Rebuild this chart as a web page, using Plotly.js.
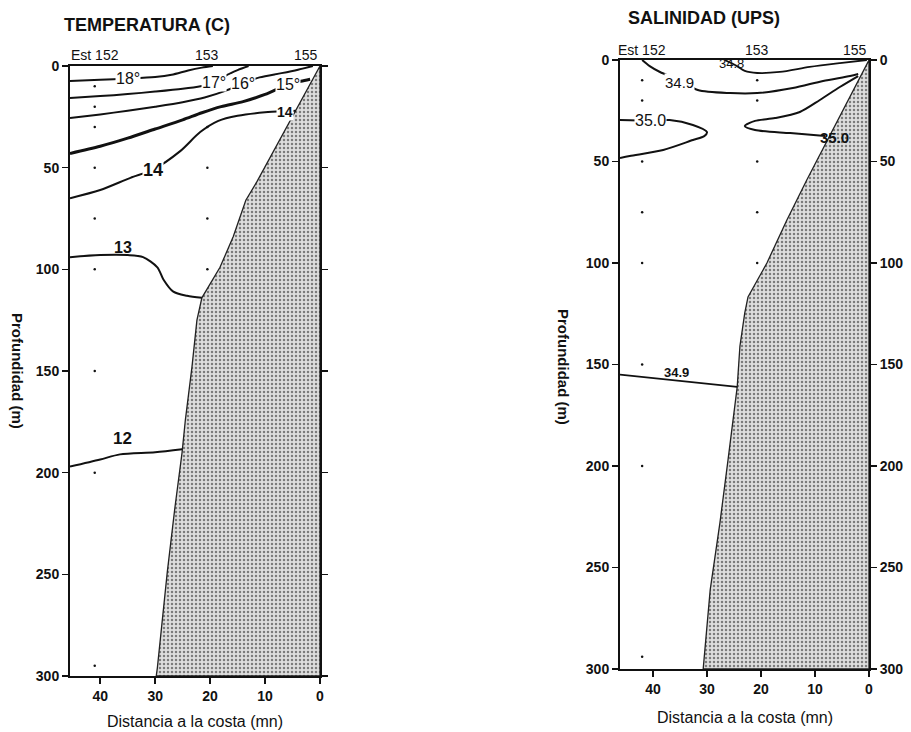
<!DOCTYPE html>
<html>
<head>
<meta charset="utf-8">
<script src="https://cdn.plot.ly/plotly-3.0.1.min.js"></script>
<style>html,body{margin:0;padding:0;background:#fff}#chart{width:911px;height:732px}</style>
</head>
<body>
<div id="chart"></div>
<script>
// ---------------- DATA ----------------
// Station positions (distance to coast, mn) and names
const tempStationX = [41, 20.5, 0];
const salStationX = [42, 20.7, 0];
const stationNames = ['Est 152', '153', '155'];

// Sample depths at stations (m)
const tempDepths152 = [10, 20, 30, 50, 75, 100, 150, 200, 295];
const tempDepths153 = [30, 50, 75, 100];
const salDepths152 = [10, 20, 50, 75, 100, 150, 200, 294];
const salDepths153 = [10, 20, 50, 75, 100];

// Bottom profile (distance, depth)
const tempBottomX = [0, 11.5, 13.5, 15.8, 18.2, 21.5, 22.4, 23.3, 24.5, 25.1, 26.4, 27.8, 29.6, 29.8];
const tempBottomD = [0, 57, 66, 84, 99, 114, 125, 148, 174, 190, 217, 249, 296, 300];
const salBottomX = [0, 10.4, 11.5, 15.2, 18.9, 22.4, 23, 23.9, 24.4, 26.1, 27.6, 29.4, 30.7];
const salBottomD = [0, 52.7, 59, 78.8, 100, 116.7, 124.6, 141, 161, 197, 228, 261, 300];

// Temperature isotherms (distance, depth)
const t18X = [45.5, 40, 35, 30, 27, 24, 21.5, 19.5];
const t18D = [7.4, 6.8, 6.2, 5.4, 4.3, 2.2, 0.8, 0];
const t17X = [45.5, 40, 35, 30, 25, 21.5, 19, 17, 15, 13];
const t17D = [15.7, 14.8, 13.8, 12.6, 11.2, 9.8, 8.3, 4.5, 2, 0];
const t16X = [45.5, 40, 35, 30, 25, 21, 17, 14, 11, 7, 4, 1.3];
const t16D = [25.6, 23.8, 22, 20, 17.8, 15.5, 12, 8.5, 5.6, 3.5, 1.8, 0];
const t15X = [45.5, 40, 35, 30, 25, 21.5, 18, 14, 10, 7.5, 5.8, 3.5, 1.8];
const t15D = [43, 39.5, 35.5, 31, 26.5, 23, 20, 17.5, 14, 11, 9, 7.5, 6.5];
const t14X = [45.5, 40, 34.5, 30.4, 25.5, 21.8, 18.5, 15, 10, 6, 4.4];
const t14D = [65, 61, 55, 51, 42, 32.5, 27, 24.5, 22.8, 22.2, 22];
const t13X = [45.5, 40, 35, 32.2, 29.6, 28.5, 26.7, 24.2, 21.5];
const t13D = [94, 93, 93, 94, 99, 105, 111, 113, 114];
const t12X = [45.5, 40, 36.4, 30, 25.1];
const t12D = [197, 193.5, 191, 190, 188.5];

// Temperature labels
const tLabelText = ['18°', '17°', '16°', '15°', '14', '14', '13', '12'];
const tLabelX = [35, 19.3, 14, 5.8, 30.4, 6.3, 35.8, 36];
const tLabelD = [6.2, 8, 8.5, 9, 51, 22.4, 89.5, 183];

// Salinity isohalines (distance, depth)
const s348X = [26.7, 24.8, 23, 20.7, 16.5, 11, 5.4, 0.4];
const s348D = [0, 2.5, 5.4, 6.4, 5.9, 3.4, 1.5, 0];
const s349aX = [42, 40.6, 38.7, 35, 31.7, 25.7, 20.7, 14.1, 8.5, 3.5, 2];
const s349aD = [0, 3, 5.9, 10, 14.8, 16.3, 16.3, 13.8, 10.3, 7.9, 6.9];
const s350aX = [46.1, 40.4, 36.9, 32.6, 30, 30.5, 32.6, 38.1, 44.3, 46.1];
const s350aD = [29.6, 30, 29.6, 32, 35.5, 37.5, 39.4, 44.3, 47.3, 48.3];
const s350bX = [2, 5.4, 9.1, 12.8, 17.4, 21.1, 23, 21.1, 14.6, 8.1];
const s350bD = [7.9, 13.3, 19.7, 25.6, 28.6, 30, 32.5, 34.5, 36, 37.4];
const s349bX = [46.1, 35, 24.4];
const s349bD = [155, 158, 161];

// Salinity labels
const sLabelText = ['34.8', '34.9', '35.0', '35.0', '34.9'];
const sLabelX = [25.5, 35, 40.4, 6.3, 35.7];
const sLabelD = [1.5, 11.3, 30, 38, 154];

// ---------------- LAYOUT HELPERS ----------------
const W = 911, H = 732;
const fx = p => p / W;
const fy = p => 1 - p / H;
const FONT = 'Arial, "Liberation Sans", sans-serif';
const INK = '#111';

function line(x, y, xa, ya, w, shape) {
  return {x: x, y: y, xaxis: xa, yaxis: ya, type: 'scatter', mode: 'lines',
    line: {color: INK, width: w, shape: shape || 'spline', smoothing: 0.8},
    hoverinfo: 'skip', showlegend: false};
}
function bottom(x, d, xa, ya) {
  const px = x.slice(), pd = d.slice();
  px.push(0, 0); pd.push(300, 0);
  return {x: px, y: pd, xaxis: xa, yaxis: ya, type: 'scatter', mode: 'lines',
    fill: 'toself', fillcolor: '#d6d6d6',
    fillpattern: {shape: '.', fgcolor: '#7c7c7c', bgcolor: '#dedede', size: 4, solidity: 0.3},
    line: {color: '#222', width: 1.3}, hoverinfo: 'skip', showlegend: false};
}
function dots(xv, depths, xa, ya) {
  return {x: depths.map(() => xv), y: depths, xaxis: xa, yaxis: ya, type: 'scatter',
    mode: 'markers', marker: {color: INK, size: 2.5}, hoverinfo: 'skip', showlegend: false};
}

const traces = [
  bottom(tempBottomX, tempBottomD, 'x', 'y'),
  line(t18X, t18D, 'x', 'y', 2),
  line(t17X, t17D, 'x', 'y', 2),
  line(t16X, t16D, 'x', 'y', 2),
  line(t15X, t15D, 'x', 'y', 3),
  line(t14X, t14D, 'x', 'y', 2),
  line(t13X, t13D, 'x', 'y', 2),
  line(t12X, t12D, 'x', 'y', 2),
  dots(tempStationX[0], tempDepths152, 'x', 'y'),
  dots(tempStationX[1], tempDepths153, 'x', 'y'),
  {x: [], y: [], xaxis: 'x', yaxis: 'y2', type: 'scatter', showlegend: false},

  bottom(salBottomX, salBottomD, 'x3', 'y3'),
  line(s348X, s348D, 'x3', 'y3', 1.8),
  line(s349aX, s349aD, 'x3', 'y3', 2),
  line(s350aX, s350aD, 'x3', 'y3', 2),
  line(s350bX, s350bD, 'x3', 'y3', 2),
  line(s349bX, s349bD, 'x3', 'y3', 1.8, 'linear'),
  dots(salStationX[0], salDepths152, 'x3', 'y3'),
  dots(salStationX[1], salDepths153, 'x3', 'y3'),
  {x: [], y: [], xaxis: 'x3', yaxis: 'y4', type: 'scatter', showlegend: false}
];

const tickFont = {family: FONT, size: 14, color: INK, weight: 'bold'};
function xAx(d0, d1, r0, anchor) {
  return {domain: [fx(d0), fx(d1)], range: [r0, 0], anchor: anchor,
    tickvals: [40, 30, 20, 10, 0], ticks: 'outside', ticklen: 6, tickwidth: 1.5, tickcolor: INK,
    showline: true, linewidth: 2, linecolor: INK, mirror: true,
    showgrid: false, zeroline: false, tickfont: tickFont, fixedrange: true};
}
function yAx(t, b, anchor, extra) {
  return Object.assign({domain: [fy(b), fy(t)], range: [300, 0], anchor: anchor,
    tickvals: [0, 50, 100, 150, 200, 250, 300], ticks: 'outside', ticklen: 6, tickwidth: 1.5, tickcolor: INK,
    showline: true, linewidth: 2, linecolor: INK,
    showgrid: false, zeroline: false, tickfont: tickFont, fixedrange: true}, extra || {});
}

const annotations = [];
function ann(o) {
  annotations.push(Object.assign({showarrow: false, xanchor: 'center', yanchor: 'middle',
    font: {family: FONT, color: INK, size: 13}}, o));
}

// Panel titles
ann({xref: 'paper', yref: 'paper', x: fx(147), y: fy(25), text: 'TEMPERATURA (C)', font: {family: FONT, size: 18, color: INK, weight: 'bold'}});
ann({xref: 'paper', yref: 'paper', x: fx(704), y: fy(18), text: 'SALINIDAD (UPS)', font: {family: FONT, size: 18, color: INK, weight: 'bold'}});
// Axis titles
ann({xref: 'paper', yref: 'paper', x: fx(17), y: fy(371), text: 'Profundidad (m)', textangle: 90, font: {family: FONT, size: 15, color: INK, weight: 'bold'}});
ann({xref: 'paper', yref: 'paper', x: fx(563), y: fy(367), text: 'Profundidad (m)', textangle: 90, font: {family: FONT, size: 15, color: INK, weight: 'bold'}});
ann({xref: 'paper', yref: 'paper', x: fx(195), y: fy(721), text: 'Distancia a la costa (mn)', font: {family: FONT, size: 16, color: INK}});
ann({xref: 'paper', yref: 'paper', x: fx(745), y: fy(717), text: 'Distancia a la costa (mn)', font: {family: FONT, size: 16, color: INK}});

// Station names above each panel
stationNames.forEach((n, i) => {
  ann({xref: 'x', yref: 'paper', x: tempStationX[i], y: fy(55), text: n,
    xanchor: i === 2 ? 'right' : 'center', font: {family: FONT, size: 14, color: INK}});
  ann({xref: 'x3', yref: 'paper', x: salStationX[i], y: fy(50), text: n,
    xanchor: i === 2 ? 'right' : 'center', font: {family: FONT, size: 14, color: INK}});
});

// Contour labels - temperature
const tStyle = [
  {size: 16, bg: true}, {size: 16, bg: true}, {size: 16, bg: true}, {size: 16, bg: true},
  {size: 18, bg: true, bold: true}, {size: 14, bg: true, bold: true},
  {size: 16, bg: false, bold: true}, {size: 17, bg: false, bold: true}
];
tLabelText.forEach((t, i) => {
  const s = tStyle[i];
  ann({xref: 'x', yref: 'y', x: tLabelX[i], y: tLabelD[i], text: t, borderpad: 0,
    bgcolor: s.bg ? '#fff' : 'rgba(0,0,0,0)',
    font: {family: FONT, size: s.size, color: INK, weight: s.bold ? 'bold' : 'normal'}});
});
// Contour labels - salinity
const sStyle = [
  {size: 13, bg: false, bold: false}, {size: 15, bg: true, bold: false},
  {size: 16, bg: true, bold: false}, {size: 15, bg: false, bold: true},
  {size: 13, bg: false, bold: true}
];
sLabelText.forEach((t, i) => {
  const s = sStyle[i];
  ann({xref: 'x3', yref: 'y3', x: sLabelX[i], y: sLabelD[i], text: t, borderpad: 0,
    bgcolor: s.bg ? '#fff' : 'rgba(0,0,0,0)',
    font: {family: FONT, size: s.size, color: INK, weight: s.bold ? 'bold' : 'normal'}});
});

const layout = {
  width: W, height: H,
  margin: {l: 0, r: 0, t: 0, b: 0},
  paper_bgcolor: '#fff', plot_bgcolor: '#fff',
  showlegend: false,
  xaxis: xAx(70, 320, 45.5, 'y'),
  yaxis: yAx(66, 676, 'x'),
  yaxis2: yAx(66, 676, 'x', {overlaying: 'y', side: 'right', showticklabels: false}),
  xaxis3: xAx(620, 869, 46.1, 'y3'),
  yaxis3: yAx(60, 669, 'x3'),
  yaxis4: yAx(60, 669, 'x3', {overlaying: 'y3', side: 'right'}),
  annotations: annotations
};

Plotly.newPlot('chart', traces, layout, {staticPlot: true, displayModeBar: false});
</script>
</body>
</html>
